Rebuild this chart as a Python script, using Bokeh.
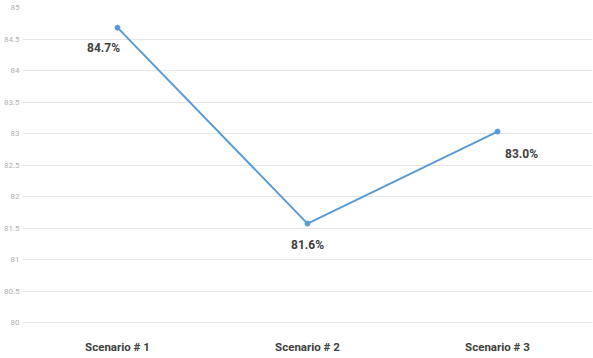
from bokeh.plotting import figure
from bokeh.models import ColumnDataSource, Range1d, FixedTicker
from bokeh.core.properties import value
from bokeh.embed import file_html
from bokeh.resources import INLINE

categories = ["Scenario # 1", "Scenario # 2", "Scenario # 3"]
values = [84.68, 81.57, 83.03]
labels = ["84.7%", "81.6%", "83.0%"]
y_ticks = [80, 80.5, 81, 81.5, 82, 82.5, 83, 83.5, 84, 84.5, 85]
y_tick_labels = ["80", "80.5", "81", "81.5", "82", "82.5", "83", "83.5", "84", "84.5", "85"]

# label offsets (pixels) for data labels
label_dx = [-14, 0, 24]
label_dy = [20, 21, 22]

src = ColumnDataSource(dict(x=categories, y=values, lab=labels, dx=label_dx, dy=label_dy))

p = figure(width=593, height=358, x_range=categories, y_range=Range1d(80, 85),
           output_backend="svg", toolbar_location=None,
           min_border_left=20, min_border_right=1, min_border_top=7, min_border_bottom=36)
p.outline_line_color = None
p.background_fill_color = "white"
p.border_fill_color = "white"

p.xgrid.grid_line_color = None
p.ygrid.grid_line_color = "#e6e6e6"
p.ygrid.grid_line_width = 1
p.ygrid.ticker = FixedTicker(ticks=y_ticks)

p.yaxis.ticker = FixedTicker(ticks=y_ticks)
p.yaxis.major_label_overrides = {t: l for t, l in zip(y_ticks, y_tick_labels)}
p.yaxis.axis_line_color = None
p.yaxis.major_tick_line_color = None
p.yaxis.minor_tick_line_color = None
p.yaxis.major_tick_in = 0
p.yaxis.major_tick_out = 0
p.yaxis.major_label_standoff = 3
p.yaxis.major_label_text_font_size = "8px"
p.yaxis.major_label_text_color = "#b0b0b0"
p.yaxis.major_label_text_font = "Roboto"

p.xaxis.axis_line_color = "#e6e6e6"
p.xaxis.major_tick_line_color = None
p.xaxis.minor_tick_line_color = None
p.xaxis.major_tick_in = 0
p.xaxis.major_tick_out = 0
p.xaxis.major_label_standoff = 17
p.xaxis.major_label_text_font_size = "11.5px"
p.xaxis.major_label_text_font_style = "bold"
p.xaxis.major_label_text_color = "#404040"
p.xaxis.major_label_text_font = "Roboto"

p.line("x", "y", source=src, line_color="#5b9bd5", line_width=2)
p.scatter("x", "y", source=src, size=5, fill_color="#5b9bd5", line_color="#5b9bd5")
p.text("x", "y", text="lab", source=src, x_offset="dx", y_offset="dy",
       text_align="center", text_baseline="middle", text_font=value("Roboto"),
       text_font_size="12px", text_font_style="bold", text_color="#404040")

open("out.html", "w").write(file_html(p, INLINE))
